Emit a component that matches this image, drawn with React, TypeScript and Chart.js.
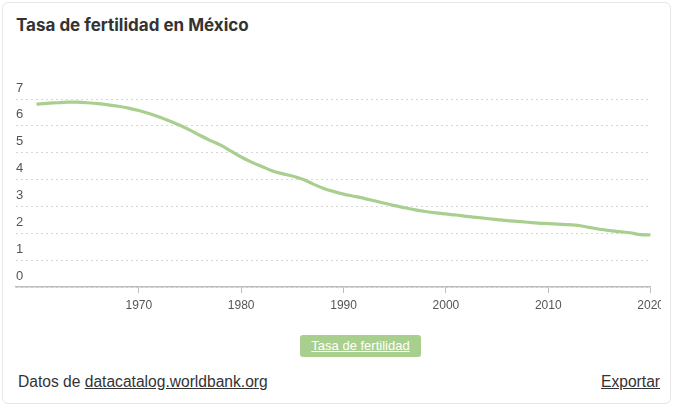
import React, { useEffect, useRef } from "react";
import { Chart, registerables } from "chart.js";

Chart.register(...registerables);

const years: number[] = [
  1960, 1961, 1962, 1963, 1964, 1965, 1966, 1967, 1968, 1969,
  1970, 1971, 1972, 1973, 1974, 1975, 1976, 1977, 1978, 1979,
  1980, 1981, 1982, 1983, 1984, 1985, 1986, 1987, 1988, 1989,
  1990, 1991, 1992, 1993, 1994, 1995, 1996, 1997, 1998, 1999,
  2000, 2001, 2002, 2003, 2004, 2005, 2006, 2007, 2008, 2009,
  2010, 2011, 2012, 2013, 2014, 2015, 2016, 2017, 2018, 2019, 2020,
];

const fertility: number[] = [
  6.81, 6.84, 6.86, 6.88, 6.88, 6.86, 6.83, 6.78, 6.73, 6.66,
  6.57, 6.46, 6.33, 6.18, 6.02, 5.84, 5.64, 5.45, 5.28, 5.06,
  4.84, 4.65, 4.49, 4.33, 4.22, 4.13, 4.01, 3.84, 3.68, 3.56,
  3.46, 3.38, 3.3, 3.21, 3.12, 3.03, 2.95, 2.87, 2.81, 2.76,
  2.72, 2.68, 2.63, 2.59, 2.55, 2.51, 2.47, 2.44, 2.41, 2.38,
  2.36, 2.34, 2.32, 2.29, 2.22, 2.15, 2.1, 2.06, 2.02, 1.95, 1.94,
];

const xTickYears: number[] = [1970, 1980, 1990, 2000, 2010, 2020];
const yTickValues: number[] = [0, 1, 2, 3, 4, 5, 6, 7];

const title = "Tasa de fertilidad en México";
const seriesLabel = "Tasa de fertilidad";
const lineColor = "#a9cf8f";
const textFont = "'Liberation Sans', Arial, Helvetica, sans-serif";

export default function App() {
  const canvasRef = useRef<HTMLCanvasElement | null>(null);

  useEffect(() => {
    const canvas = canvasRef.current;
    if (!canvas) return;
    const chart = new Chart(canvas, {
      type: "line",
      data: {
        datasets: [
          {
            label: seriesLabel,
            data: years.map((y, i) => ({ x: y, y: fertility[i] })),
            borderColor: lineColor,
            backgroundColor: lineColor,
            borderWidth: 3.2,
            pointRadius: 0,
            tension: 0.4,
            cubicInterpolationMode: "monotone",
            fill: false,
          },
        ],
      },
      options: {
        animation: false,
        responsive: false,
        maintainAspectRatio: false,
        layout: { padding: { left: 8, top: 29, right: 0, bottom: 0 } },
        plugins: {
          legend: { display: false },
          tooltip: { enabled: false },
          title: { display: false },
        },
        scales: {
          x: {
            type: "linear",
            min: 1958,
            max: 2020,
            afterBuildTicks: (scale: any) => {
              scale.ticks = xTickYears.map((v) => ({ value: v }));
            },
            afterFit: (scale: any) => {
              scale.height = 33;
            },
            grid: {
              drawOnChartArea: false,
              drawTicks: true,
              tickLength: 6,
              color: "#bdbdbd",
            },
            border: { display: true, color: "#bdbdbd", width: 1.5 },
            ticks: {
              autoSkip: false,
              maxRotation: 0,
              padding: 5,
              color: "#555555",
              font: { family: textFont, size: 12 },
              callback: (v: any) => String(v),
            },
          },
          y: {
            min: 0,
            max: 7,
            afterBuildTicks: (scale: any) => {
              scale.ticks = yTickValues.map((v) => ({ value: v }));
            },
            grid: {
              drawTicks: false,
              color: "#d6d6d6",
              lineWidth: 1,
            },
            border: { display: false, dash: [2, 3] },
            ticks: {
              mirror: true,
              padding: 0,
              labelOffset: -11,
              color: "#555555",
              font: { family: textFont, size: 13 },
            },
          },
        },
      } as any,
    });
    return () => chart.destroy();
  }, []);

  return (
    <div>
      <div
        style={{
          position: "absolute",
          left: 2,
          top: 2,
          width: 669,
          height: 402,
          border: "1px solid #e6e6e6",
          borderRadius: 6,
          background: "#fff",
          boxSizing: "border-box",
        }}
      />
      <div
        style={{
          position: "absolute",
          left: 16,
          top: 14,
          fontFamily: "Inter, 'Noto Sans', sans-serif",
          fontWeight: 700,
          fontSize: 17,
          color: "#333333",
          whiteSpace: "nowrap",
          lineHeight: "22px",
        }}
      >
        {title}
      </div>
      <div
        style={{
          position: "absolute",
          left: 8,
          top: 70,
          width: 653,
          height: 250,
          overflow: "hidden",
        }}
      >
        <canvas
          ref={canvasRef}
          width={661}
          height={250}
          style={{ display: "block", width: 661, height: 250 }}
        />
      </div>
      <div
        style={{
          position: "absolute",
          left: 300,
          top: 335,
          width: 121,
          height: 22,
          background: lineColor,
          borderRadius: 3,
          color: "#ffffff",
          fontFamily: textFont,
          fontSize: 13,
          lineHeight: "22px",
          textAlign: "center",
          textDecoration: "underline",
          whiteSpace: "nowrap",
        }}
      >
        {seriesLabel}
      </div>
      <div
        style={{
          position: "absolute",
          left: 18,
          top: 373,
          fontFamily: textFont,
          fontSize: 15.6,
          lineHeight: "18px",
          color: "#333333",
          whiteSpace: "nowrap",
        }}
      >
        Datos de <span style={{ textDecoration: "underline" }}>datacatalog.worldbank.org</span>
      </div>
      <div
        style={{
          position: "absolute",
          right: 675 - 660,
          top: 373,
          fontFamily: textFont,
          fontSize: 15.6,
          lineHeight: "18px",
          color: "#333333",
          textDecoration: "underline",
          whiteSpace: "nowrap",
        }}
      >
        Exportar
      </div>
    </div>
  );
}
